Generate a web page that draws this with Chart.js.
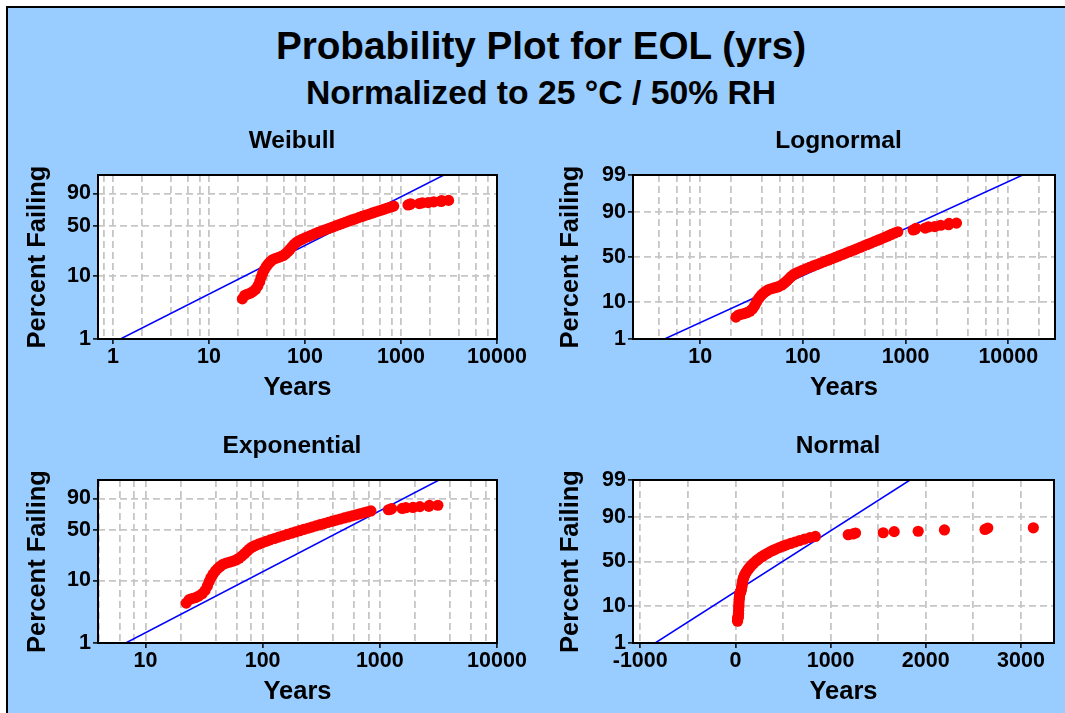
<!DOCTYPE html>
<html>
<head>
<meta charset="utf-8">
<title>Probability Plot for EOL (yrs)</title>
<script src="https://cdn.jsdelivr.net/npm/chart.js@4.4.1/dist/chart.umd.min.js"></script>
<style>
  html, body { margin: 0; padding: 0; background: #ffffff; }
  body { width: 1065px; height: 713px; position: relative; overflow: hidden;
         font-family: "Liberation Sans", Arial, Helvetica, sans-serif; }
  #panel { position: absolute; left: 6px; top: 6px; width: 1057px; height: 705px;
           background: #99ccff; border-left: 2px solid #000; border-top: 2px solid #000; }
  .head { position: absolute; left: 0; width: 1082px; text-align: center; font-weight: bold;
          color: #000; white-space: nowrap; }
  #title { top: 27.4px; font-size: 38.7px; line-height: 38.7px; }
  #subtitle { top: 75.6px; font-size: 33.7px; line-height: 33.7px; }
  canvas { position: absolute; }
</style>
</head>
<body>
<div id="panel"></div>
<div class="head" id="title">Probability Plot for EOL (yrs)</div>
<div class="head" id="subtitle">Normalized to 25 °C / 50% RH</div>
<canvas id="weibull" width="535" height="306" style="left:10px;top:112px"></canvas>
<canvas id="lognormal" width="520" height="306" style="left:545px;top:112px"></canvas>
<canvas id="exponential" width="535" height="296" style="left:10px;top:417px"></canvas>
<canvas id="normal" width="520" height="296" style="left:545px;top:417px"></canvas>
<script>
// End-of-life times (years) and their plotting positions (percent failing)
const eolYears = [
  22.3, 23.6, 25.0, 26.8, 28.5, 30.5, 32.3, 33.8, 35.0, 36.2,
  37.8, 39.6, 41.5, 43.6, 46.0, 49.0, 52.5, 56.0, 59.5, 63.0,
  66.5, 70.0, 73.5, 77.0, 81.0, 86.0, 92.0, 99.0, 107, 116,
  126, 137, 149, 162, 176, 191, 207, 224, 243, 263,
  285, 309, 335, 363, 393, 425, 460, 497, 537, 580,
  626, 675, 727, 782, 840,
  1185, 1235, 1262, 1553, 1668, 1920, 2196, 2622, 2651, 3130
];
const percentFailing = [
  4.4, 5.0, 5.2, 5.4, 5.7, 6.2, 7.0, 8.2, 9.6, 11.0,
  12.5, 14.0, 15.3, 16.5, 17.6, 18.4, 19.0, 19.6, 20.4, 21.6,
  23.2, 25.0, 27.0, 29.0, 30.8, 32.3, 33.8, 35.3, 36.8, 38.4,
  40.0, 41.6, 43.2, 44.8, 46.4, 48.0, 49.6, 51.2, 52.8, 54.4,
  56.0, 57.6, 59.2, 60.8, 62.4, 63.9, 65.4, 66.9, 68.3, 69.7,
  71.1, 72.5, 73.9, 75.2, 76.3,
  77.8, 78.4, 79.2, 79.4, 80.3, 80.6, 81.6, 82.0, 83.0, 83.2
];

// Fitted distribution lines (end points, years / percent)
const weibullFitYears = [1.2, 2800];
const weibullFitPct = [1, 99];
const lognormalFitYears = [4.5, 13800];
const lognormalFitPct = [1, 99];
const exponentialFitYears = [6.8, 3200];
const exponentialFitPct = [1, 99];
const normalFitYears = [-843, 1834];
const normalFitPct = [1, 99];

// Tick labels
const weibullYTicks = [1, 10, 50, 90];
const probitYTicks = [1, 10, 50, 90, 99];
const weibullXTicks = [1, 10, 100, 1000, 10000];
const decadeXTicks = [10, 100, 1000, 10000];
const normalXTicks = [-1000, 0, 1000, 2000, 3000];

const FONT = '"Liberation Sans", Arial, Helvetica, sans-serif';
Chart.defaults.font.family = FONT;
Chart.defaults.font.weight = 'bold';
Chart.defaults.color = '#000';

// Inverse standard normal CDF (Acklam)
function normInv(p) {
  const a = [-3.969683028665376e+01, 2.209460984245205e+02, -2.759285104469687e+02,
             1.383577518672690e+02, -3.066479806614716e+01, 2.506628277459239e+00];
  const b = [-5.447609879822406e+01, 1.615858368580409e+02, -1.556989798598866e+02,
             6.680131188771972e+01, -1.328068155288572e+01];
  const c = [-7.784894002430293e-03, -3.223964580411365e-01, -2.400758277161838e+00,
             -2.549732539343734e+00, 4.374664141464968e+00, 2.938163982698783e+00];
  const d = [7.784695709041462e-03, 3.224671290700398e-01, 2.445134137142996e+00,
             3.754408661907416e+00];
  const pl = 0.02425, ph = 1 - pl;
  let q, r;
  if (p < pl) {
    q = Math.sqrt(-2 * Math.log(p));
    return (((((c[0]*q+c[1])*q+c[2])*q+c[3])*q+c[4])*q+c[5]) / ((((d[0]*q+d[1])*q+d[2])*q+d[3])*q+1);
  }
  if (p <= ph) {
    q = p - 0.5; r = q * q;
    return (((((a[0]*r+a[1])*r+a[2])*r+a[3])*r+a[4])*r+a[5])*q / (((((b[0]*r+b[1])*r+b[2])*r+b[3])*r+b[4])*r+1);
  }
  q = Math.sqrt(-2 * Math.log(1 - p));
  return -(((((c[0]*q+c[1])*q+c[2])*q+c[3])*q+c[4])*q+c[5]) / ((((d[0]*q+d[1])*q+d[2])*q+d[3])*q+1);
}
// Smallest-extreme-value (Weibull) probability transform
function weibit(p) { return Math.log(-Math.log(1 - p)); }

// Probability-paper axis: percent values placed on a transformed scale
class ProbabilityScale extends Chart.LinearScale {
  determineDataLimits() {
    this.min = this.options.min;
    this.max = this.options.max;
  }
  buildTicks() {
    return this.options.probTicks.map(v => ({ value: v }));
  }
  _t(v) {
    const p = v / 100;
    return this.options.probTransform === 'weibull' ? weibit(p) : normInv(p);
  }
  configure() {
    super.configure();
    this._tMin = this._t(this.min);
    this._tMax = this._t(this.max);
  }
  getPixelForValue(v) {
    if (v === null || v === undefined || isNaN(v)) return NaN;
    return this.getPixelForDecimal((this._t(v) - this._tMin) / (this._tMax - this._tMin));
  }
  getValueForPixel(px) {
    const dec = this.getDecimalForPixel(px);
    let lo = this.min, hi = this.max;
    for (let i = 0; i < 40; i++) {
      const mid = (lo + hi) / 2;
      const dm = (this._t(mid) - this._tMin) / (this._tMax - this._tMin);
      if (dm < dec) lo = mid; else hi = mid;
    }
    return (lo + hi) / 2;
  }
}
ProbabilityScale.id = 'probability';
ProbabilityScale.defaults = {};
Chart.register(ProbabilityScale);

function logGrid(min, max) {
  const out = [];
  for (let e = -1; e <= 5; e++) {
    for (const m of [1, 2, 4, 6, 8]) {
      const v = m * Math.pow(10, e);
      if (v >= min && v <= max) out.push(v);
    }
  }
  return out;
}
function linGrid(min, max, step) {
  const out = [];
  for (let v = Math.ceil(min / step) * step; v <= max; v += step) out.push(v);
  return out;
}
function isLabel(v, list) {
  return list.some(t => Math.abs(v - t) <= 1e-9 * Math.max(1, Math.abs(t)));
}

// White plot area, black frame, and panel heading nudged over the whole panel
const framePlugin = {
  id: 'plotFrame',
  afterLayout(chart, args, opts) {
    const tb = chart.titleBlock;
    if (tb) { tb.left += opts.titleShift; tb.right += opts.titleShift; }
  },
  beforeDraw(chart) {
    const { ctx, chartArea: a } = chart;
    ctx.save();
    ctx.fillStyle = '#ffffff';
    ctx.fillRect(a.left, a.top, a.right - a.left, a.bottom - a.top);
    ctx.restore();
  },
  afterDatasetsDraw(chart) {
    const { ctx, chartArea: a } = chart;
    ctx.save();
    ctx.strokeStyle = '#000';
    ctx.lineWidth = 2;
    ctx.strokeRect(a.left, a.top, a.right - a.left, a.bottom - a.top);
    ctx.restore();
  }
};

function gridOpts() {
  return {
    color: '#c6c6c6',
    lineWidth: 1.8,
    drawTicks: true,
    tickLength: 5,
    tickWidth: 1.5,
    tickColor: c => (c.tick && c.tick.label !== '' ? '#000' : 'rgba(0,0,0,0)')
  };
}

function makePlot(id, cfg) {
  const points = eolYears.map((x, i) => ({ x: x, y: percentFailing[i] }));
  const fit = cfg.fitYears.map((x, i) => ({ x: x, y: cfg.fitPct[i] }));
  return new Chart(document.getElementById(id), {
    type: 'scatter',
    data: {
      datasets: [
        { type: 'scatter', data: points, pointRadius: 5.6, pointHoverRadius: 5.6,
          pointBackgroundColor: '#ff0000', pointBorderColor: '#ff0000', pointBorderWidth: 0 },
        { type: 'line', data: fit, borderColor: '#0000ff', borderWidth: 1.5,
          pointRadius: 0, fill: false, tension: 0 }
      ]
    },
    options: {
      responsive: false,
      animation: false,
      devicePixelRatio: 1,
      events: [],
      layout: { padding: { left: 0, right: cfg.padRight, top: 0, bottom: 0 } },
      plugins: {
        legend: { display: false },
        tooltip: { enabled: false },
        plotFrame: { titleShift: -5.5 },
        title: {
          display: true, text: cfg.title, fullSize: false, color: '#000',
          font: { size: 24.5, weight: 'bold', family: FONT },
          padding: { top: 15, bottom: 18.6 }
        }
      },
      scales: {
        x: {
          type: cfg.xType, position: 'bottom', min: cfg.xMin, max: cfg.xMax,
          afterBuildTicks: s => { s.ticks = cfg.xGrid.map(v => ({ value: v })); },
          afterFit: s => { s.height = cfg.xHeight; },
          ticks: {
            autoSkip: false, maxRotation: 0, minRotation: 0, padding: 0, color: '#000',
            font: { size: 21.5, weight: 'bold', family: FONT },
            callback: v => (isLabel(v, cfg.xLabels) ? String(Math.round(v)) : '')
          },
          grid: gridOpts(),
          border: { display: false, dash: [7, 4] },
          title: {
            display: true, text: 'Years', color: '#000',
            font: { size: 25.5, weight: 'bold', family: FONT },
            padding: { top: 0, bottom: cfg.xTitlePad }
          }
        },
        y: {
          type: 'probability', position: 'left', min: 1, max: 99,
          probTransform: cfg.yTransform, probTicks: cfg.yTicks,
          afterFit: s => { s.width = 88; },
          ticks: {
            padding: 2, color: '#000',
            font: { size: 21.5, weight: 'bold', family: FONT },
            callback: v => String(v)
          },
          grid: gridOpts(),
          border: { display: false, dash: [7, 4] },
          title: {
            display: true, text: 'Percent Failing', color: '#000',
            font: { size: 25.5, weight: 'bold', family: FONT },
            padding: { top: cfg.yTitlePad, bottom: 0 }
          }
        }
      }
    },
    plugins: [framePlugin]
  });
}

makePlot('weibull', {
  title: 'Weibull', xType: 'logarithmic', xMin: 0.73, xMax: 10000,
  xGrid: logGrid(0.73, 10000), xLabels: weibullXTicks,
  yTransform: 'weibull', yTicks: weibullYTicks,
  fitYears: weibullFitYears, fitPct: weibullFitPct,
  padRight: 48, xHeight: 79, xTitlePad: 14.7, yTitlePad: 12.6
});
makePlot('lognormal', {
  title: 'Lognormal', xType: 'logarithmic', xMin: 2.22, xMax: 28500,
  xGrid: logGrid(2.22, 28500), xLabels: decadeXTicks,
  yTransform: 'normal', yTicks: probitYTicks,
  fitYears: lognormalFitYears, fitPct: lognormalFitPct,
  padRight: 10, xHeight: 79, xTitlePad: 14.7, yTitlePad: 10.9
});
makePlot('exponential', {
  title: 'Exponential', xType: 'logarithmic', xMin: 3.94, xMax: 10000,
  xGrid: logGrid(3.94, 10000), xLabels: decadeXTicks,
  yTransform: 'weibull', yTicks: weibullYTicks,
  fitYears: exponentialFitYears, fitPct: exponentialFitPct,
  padRight: 48, xHeight: 70, xTitlePad: 5.7, yTitlePad: 12.6
});
makePlot('normal', {
  title: 'Normal', xType: 'linear', xMin: -1076, xMax: 3347,
  xGrid: linGrid(-1076, 3347, 500), xLabels: normalXTicks,
  yTransform: 'normal', yTicks: probitYTicks,
  fitYears: normalFitYears, fitPct: normalFitPct,
  padRight: 11, xHeight: 70, xTitlePad: 5.7, yTitlePad: 10.9
});
</script>
</body>
</html>
